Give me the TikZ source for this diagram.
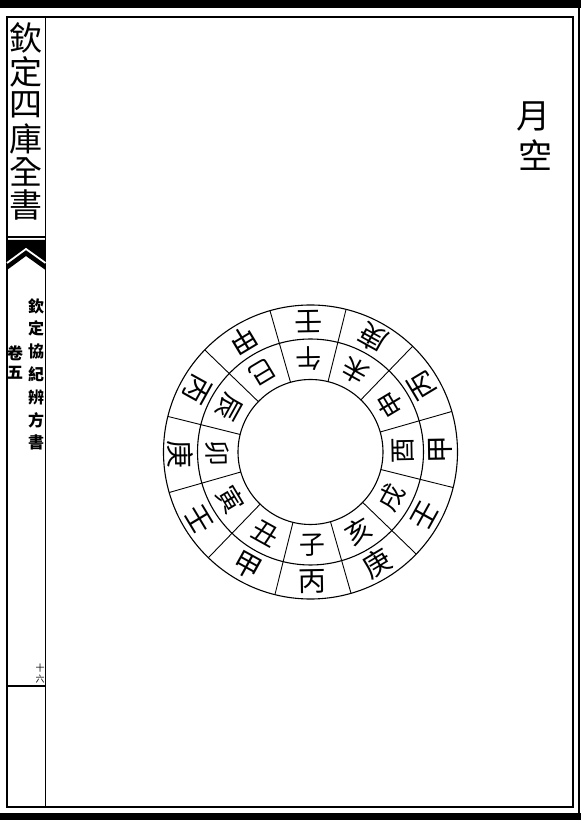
\documentclass[tikz,border=0pt]{standalone}
\usepackage{fontspec}
\newfontfamily\cjk{Noto Sans CJK TC}
\usepackage{tikz}
\usetikzlibrary{positioning}

\begin{document}
\begin{tikzpicture}[x=1pt, y=1pt,
  frameline/.style={line width=1.4pt},
  ringline/.style={line width=1.1pt},
  spoke/.style={line width=0.9pt},
  titlechar/.style={font=\cjk\fontsize{33}{33}\selectfont, inner sep=0pt},
  sidechar/.style={font=\cjk\bfseries\fontsize{16}{16}\selectfont, inner sep=0pt},
  headchar/.style={font=\cjk\fontsize{34}{34}\selectfont, inner sep=0pt},
  inchar/.style={font=\cjk\fontsize{26}{26}\selectfont, inner sep=0pt},
  outchar/.style={font=\cjk\fontsize{28}{28}\selectfont, inner sep=0pt},
]
  \useasboundingbox (0,0) rectangle (581,820);
  \fill[white] (0,0) rectangle (581,820);

  % page edges
  \fill[black] (0,812) rectangle (581,820);
  \fill[black] (0,0) rectangle (581,7);
  \draw[frameline] (7,13) rectangle (573,803);
  \draw[line width=1.6pt] (579,7) -- (579,812);
  \draw[frameline] (45.5,13) -- (45.5,803);

  % left column: title box, fish tail, folio
  \draw[frameline] (7,583) -- (45.5,583);
  \fill[black] (7,580) -- (45.5,580) -- (45.5,550) -- (26,564) -- (7,550) -- cycle;
  \draw[white, line width=1.8pt] (7,557) -- (26,571) -- (45.5,557);
  \draw[frameline] (7,134) -- (45.5,134);

  \foreach \ch [count=\i] in {欽,定,四,庫,全,書}
    \node[titlechar] (title\i) at (26, {815-33.4*\i}) {\ch};

  \foreach \ch [count=\i] in {欽,定,協,紀,辨,方,書}
    \node[sidechar] (side\i) at (36, {514-22.8*(\i-1)}) {\ch};
  \node[sidechar] (juan) at (15, 467) {卷};
  \node[sidechar] (wu) at (15, 447) {五};
  \node[font=\cjk\fontsize{9}{9}\selectfont, inner sep=0pt] (folioa) at (40, 152) {十};
  \node[font=\cjk\fontsize{9}{9}\selectfont, inner sep=0pt] (foliob) at (40, 141) {六};

  % heading
  \node[headchar] (yue) at (533, 703) {月};
  \node[headchar] (kong) at (535, 665) {空};

  % the wheel
  \begin{scope}[shift={(310.5,368)}]
    \draw[ringline] (0,0) circle (147);
    \draw[ringline] (0,0) circle (113);
    \draw[ringline] (0,0) circle (72.5);
    \foreach \b in {16,46,...,346}
      \draw[spoke] (\b:72.5) -- (\b:147);
    \foreach \br/\st [count=\i] in {子/丙,丑/甲,寅/壬,卯/庚,辰/丙,巳/甲,午/壬,未/庚,申/丙,酉/甲,戌/壬,亥/庚} {
      \pgfmathsetmacro\a{271-30*(\i-1)}
      \node[inchar, rotate=\a+90] (branch\i) at (\a:93) {\br};
      \node[outchar, rotate=\a+90] (stem\i) at (\a:130) {\st};
    }
  \end{scope}
\end{tikzpicture}
\end{document}
